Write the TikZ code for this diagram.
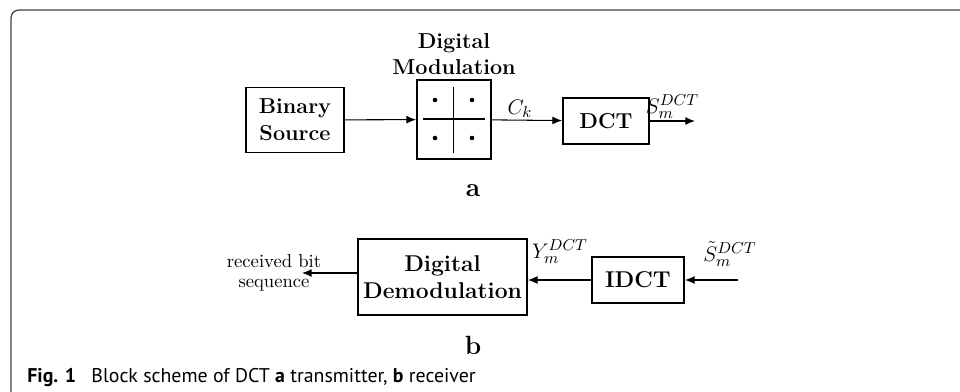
\documentclass[tikz,border=0pt]{standalone}
\usepackage{fontspec}
\newfontfamily\capfont{PT Sans}
\usetikzlibrary{arrows.meta,positioning}
\tikzset{
  blk/.style={draw,line width=1.1pt,inner sep=0pt,align=center,font=\fontsize{12.3}{15.2}\selectfont\bfseries},
  rblk/.style={blk,font=\fontsize{13}{15.6}\selectfont\bfseries},
  sig/.style={line width=0.6pt,-{Latex[length=5.5pt,width=4.5pt]}},
  lbl/.style={inner sep=1pt,font=\fontsize{12.5}{14}\selectfont},
  sub/.style={font=\fontsize{15}{17}\selectfont\bfseries}
}
\begin{document}
\begin{tikzpicture}[x=0.02cm,y=-0.02cm]
\useasboundingbox (0,0) rectangle (960,392);
\draw[black!75,line width=0.7pt,rounded corners=4.5pt] (11,392) -- (11,10) -- (960,10);

\node[blk,minimum width=1.96cm,minimum height=1.3cm] (src) at (295,120) {Binary\\Source};
\node[blk,minimum width=1.48cm,minimum height=1.58cm] (mod) at (454,119.5) {};
\node[blk,draw=none,anchor=south] (modtxt) at (454,76) {Digital\\Modulation};
\draw[line width=1.1pt] (423,119) -- (485,119);
\draw[line width=1.1pt] (453.5,87) -- (453.5,153);
\foreach \x in {435,472}
  \foreach \y in {100,138}
    \fill (\x,\y) circle (1.3pt);
\node[blk,minimum width=1.72cm,minimum height=0.92cm] (dct) at (606,121) {DCT};
\coordinate (txout) at (695,121);
\draw[sig] (src) -- (mod);
\draw[sig] (mod) -- node[above,lbl,pos=0.4] (ck) {$C_k$} (dct);
\draw[sig] (dct) -- node[above,lbl] (sdct) {$S_m^{DCT}$} (txout);
\node[sub] (ta) at (473,191) {a};

\node[rblk,minimum width=3.38cm,minimum height=1.52cm] (demod) at (442.5,277) {Digital\\Demodulation};
\node[rblk,minimum width=1.84cm,minimum height=0.92cm] (idct) at (638,280) {IDCT};
\coordinate (rxin) at (738,280);
\coordinate (rxout) at (302,273);
\draw[sig] (rxin) -- (idct);
\draw[sig] (idct.west) -- (demod.east |- idct.west);
\draw[sig] (demod.west |- rxout) -- (rxout);
\node[lbl,align=center,font=\fontsize{10.6}{11.4}\selectfont] (bits) at (274,273) {received bit\\sequence};
\node[lbl] (ylbl) at (560,252) {$Y_m^{DCT}$};
\node[lbl] (slbl) at (730,254) {$\tilde S_m^{DCT}$};
\node[sub] (tb) at (473,345) {b};

\node[anchor=west,inner sep=0pt,font=\capfont\fontsize{11.3}{13}\selectfont] (cap) at (27,378) {\textbf{Fig. 1}\enspace\ Block scheme of DCT \textbf{a} transmitter, \textbf{b} receiver};
\end{tikzpicture}
\end{document}
